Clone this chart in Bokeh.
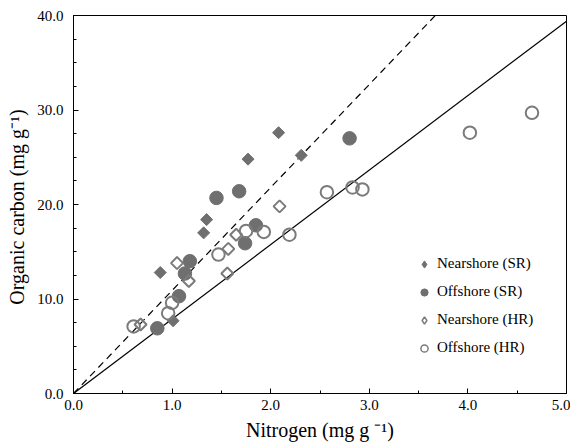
import math
from bokeh.plotting import figure
from bokeh.models import Range1d, Legend, LegendItem, FixedTicker, CustomJSTickFormatter
from bokeh.embed import file_html
from bokeh.resources import INLINE

# ---- data ----
ns_sr_n = [0.88, 1.01, 1.32, 1.35, 1.77, 2.08, 2.31]
ns_sr_c = [12.8, 7.7, 17.0, 18.4, 24.8, 27.6, 25.2]

os_sr_n = [0.85, 1.07, 1.13, 1.18, 1.45, 1.68, 1.74, 1.85, 2.80]
os_sr_c = [6.9, 10.3, 12.7, 14.0, 20.7, 21.4, 15.9, 17.8, 27.0]

ns_hr_n = [0.68, 1.05, 1.17, 1.56, 1.57, 1.65, 2.09]
ns_hr_c = [7.3, 13.8, 11.9, 12.7, 15.3, 16.8, 19.8]

os_hr_n = [0.61, 0.96, 1.00, 1.47, 1.75, 1.93, 2.19, 2.57, 2.83, 2.93, 4.02, 4.65]
os_hr_c = [7.1, 8.5, 9.6, 14.7, 17.2, 17.1, 16.8, 21.3, 21.8, 21.6, 27.6, 29.7]

line_x = [0.0, 5.0]
solid_slope = 7.88
dashed_slope = 10.9

x_ticks = [0, 1, 2, 3, 4, 5]
y_ticks = [0, 10, 20, 30, 40]

FONT = "Liberation Serif"
GRAY = "#6f6f6f"
OGRAY = "#7b7b7b"
NAN = float("nan")

p = figure(width=570, height=447, output_backend="svg", toolbar_location=None,
           x_range=Range1d(0, 5), y_range=Range1d(0, 40),
           min_border_left=73, min_border_right=4, min_border_top=15, min_border_bottom=54)

p.grid.visible = False
p.outline_line_color = "black"
p.outline_line_width = 1
p.background_fill_color = "white"
p.border_fill_color = "white"

# reference lines
p.line(line_x, [solid_slope * v for v in line_x], line_color="black", line_width=1.2)
p.line(line_x, [dashed_slope * v for v in line_x], line_color="black", line_width=1.2,
       line_dash="7 5")

# data markers
p.scatter(ns_sr_n, ns_sr_c, marker="square", size=8.5, angle=math.pi / 4,
          fill_color=GRAY, line_color=GRAY, line_width=1)
p.scatter(os_sr_n, os_sr_c, marker="circle", size=13.5,
          fill_color=GRAY, line_color=GRAY, line_width=1)
p.scatter(ns_hr_n, ns_hr_c, marker="square", size=8.5, angle=math.pi / 4,
          fill_color="white", fill_alpha=0.0, line_color=OGRAY, line_width=2)
p.scatter(os_hr_n, os_hr_c, marker="circle", size=12.5,
          fill_color="white", fill_alpha=0.0, line_color=OGRAY, line_width=2)

# legend-only renderers (one undrawable NaN point each) so the legend shows diamonds
l1 = p.scatter([NAN], [NAN], marker="diamond", fill_color=GRAY, line_color=GRAY, line_width=1)
l2 = p.scatter([NAN], [NAN], marker="circle", fill_color=GRAY, line_color=GRAY, line_width=1)
l3 = p.scatter([NAN], [NAN], marker="diamond", fill_color="white", fill_alpha=0.0,
               line_color=OGRAY, line_width=1.5)
l4 = p.scatter([NAN], [NAN], marker="circle", fill_color="white", fill_alpha=0.0,
               line_color=OGRAY, line_width=1.5)

legend = Legend(items=[
    LegendItem(label="Nearshore (SR)", renderers=[l1]),
    LegendItem(label="Offshore (SR)", renderers=[l2]),
    LegendItem(label="Nearshore (HR)", renderers=[l3]),
    LegendItem(label="Offshore (HR)", renderers=[l4]),
], location=(342, 33), padding=0, margin=0, spacing=3,
   glyph_width=18, glyph_height=18, label_height=25, label_standoff=4,
   border_line_color=None, background_fill_alpha=0.0,
   label_text_font=FONT, label_text_font_size="15px", label_text_color="black")
p.add_layout(legend, "center")

# axes
for ax in (p.xaxis[0], p.yaxis[0]):
    ax.axis_line_color = "black"
    ax.major_tick_in = 5
    ax.major_tick_out = 0
    ax.minor_tick_in = 3
    ax.minor_tick_out = 0
    ax.major_tick_line_color = "black"
    ax.minor_tick_line_color = "black"
    ax.major_label_text_font = FONT
    ax.major_label_text_font_size = "15px"
    ax.major_label_text_color = "black"
    ax.axis_label_text_font = FONT
    ax.axis_label_text_font_size = "20px"
    ax.axis_label_text_font_style = "normal"
    ax.axis_label_text_color = "black"

p.xaxis.ticker = FixedTicker(ticks=x_ticks, minor_ticks=[0.5 * i for i in range(11)])
p.yaxis.ticker = FixedTicker(ticks=y_ticks, minor_ticks=[2.5 * i for i in range(17)])
p.xaxis.formatter = CustomJSTickFormatter(code="return tick.toFixed(1);")
p.yaxis.formatter = CustomJSTickFormatter(code="return tick.toFixed(1);")
p.xaxis.major_label_standoff = 6
p.yaxis.major_label_standoff = 10
p.xaxis.axis_label = "Nitrogen (mg g \u207b\u00b9)"
p.yaxis.axis_label = "Organic carbon  (mg g\u207b\u00b9)"
p.xaxis.axis_label_standoff = 6
p.yaxis.axis_label_standoff = 6

open("out.html", "w").write(file_html(p, INLINE))
